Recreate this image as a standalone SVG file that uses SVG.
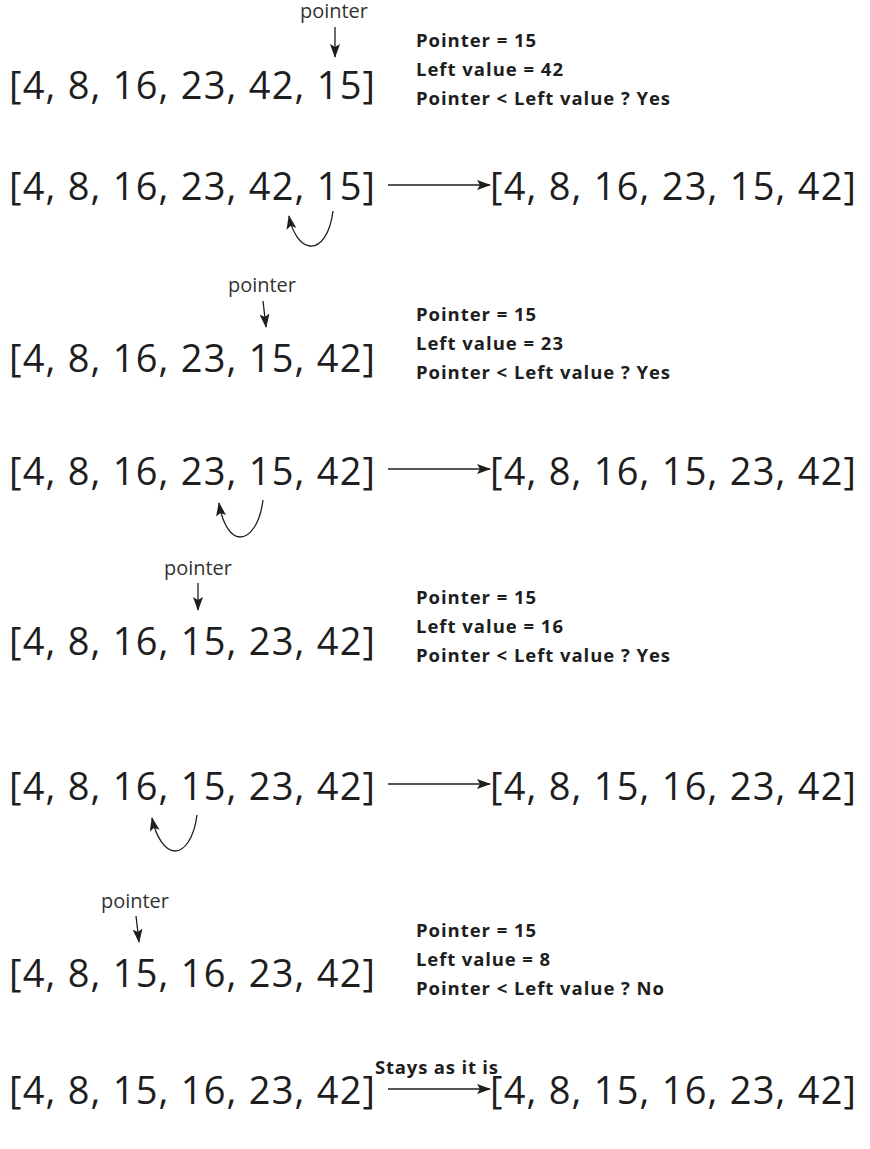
<svg xmlns="http://www.w3.org/2000/svg" width="870" height="1149" viewBox="0 0 870 1149">
<defs>
<style>
.arr{font-family:"Open Sans","Liberation Sans",sans-serif;font-size:38px;fill:#1e1e1e}
.ptr{font-family:"Open Sans","Liberation Sans",sans-serif;font-size:19.5px;fill:#333}
.info{font-family:"Open Sans","Liberation Sans",sans-serif;font-size:18.5px;font-weight:bold;fill:#1e1e1e}
.ln{stroke:#1e1e1e;stroke-width:1.3;fill:none}
</style>
<marker id="ah" viewBox="0 0 14 10" refX="13" refY="5" markerWidth="14" markerHeight="10" markerUnits="userSpaceOnUse" orient="auto">
<path d="M0,0 L14,5 L0,10 L3,5 Z" fill="#1e1e1e"/>
</marker>
</defs>
<rect width="870" height="1149" fill="#fff"/>
<g id="connectors">
<line class="ln" x1="335" y1="27" x2="335" y2="57" marker-end="url(#ah)"/>
<line class="ln" x1="388" y1="185" x2="490" y2="185" marker-end="url(#ah)"/>
<path class="ln" d="M333,211 C330,235 320,247 310,246 C300,245 292,232 289,216" marker-end="url(#ah)"/>
<line class="ln" x1="263" y1="301" x2="266" y2="327" marker-end="url(#ah)"/>
<line class="ln" x1="388" y1="469" x2="490" y2="469" marker-end="url(#ah)"/>
<path class="ln" d="M263,500 C260,524 250,537 240,537 C230,537 222,522 219,503" marker-end="url(#ah)"/>
<line class="ln" x1="198" y1="583" x2="198" y2="610" marker-end="url(#ah)"/>
<line class="ln" x1="388" y1="784" x2="490" y2="784" marker-end="url(#ah)"/>
<path class="ln" d="M197,815 C194,839 184,851 175,851 C165,851 156,837 152,818" marker-end="url(#ah)"/>
<line class="ln" x1="136" y1="916" x2="139" y2="942" marker-end="url(#ah)"/>
<line class="ln" x1="388" y1="1089" x2="490" y2="1089" marker-end="url(#ah)"/>
</g>
<g id="step1">
<text class="ptr" x="300" y="18" textLength="68" lengthAdjust="spacingAndGlyphs">pointer</text>
<text class="arr" x="9" y="99" textLength="366">[4, 8, 16, 23, 42, 15]</text>
<text class="info" x="416" y="47" textLength="120">Pointer = 15</text>
<text class="info" x="416" y="76" textLength="147">Left value = 42</text>
<text class="info" x="416" y="105" textLength="254">Pointer &lt; Left value ? Yes</text>
</g>
<g id="swap1">
<text class="arr" x="9" y="200" textLength="366">[4, 8, 16, 23, 42, 15]</text>
<text class="arr" x="490" y="200" textLength="366">[4, 8, 16, 23, 15, 42]</text>
</g>
<g id="step2">
<text class="ptr" x="228" y="292" textLength="68" lengthAdjust="spacingAndGlyphs">pointer</text>
<text class="arr" x="9" y="372" textLength="366">[4, 8, 16, 23, 15, 42]</text>
<text class="info" x="416" y="321" textLength="120">Pointer = 15</text>
<text class="info" x="416" y="350" textLength="147">Left value = 23</text>
<text class="info" x="416" y="379" textLength="254">Pointer &lt; Left value ? Yes</text>
</g>
<g id="swap2">
<text class="arr" x="9" y="485" textLength="366">[4, 8, 16, 23, 15, 42]</text>
<text class="arr" x="490" y="485" textLength="366">[4, 8, 16, 15, 23, 42]</text>
</g>
<g id="step3">
<text class="ptr" x="164" y="575" textLength="68" lengthAdjust="spacingAndGlyphs">pointer</text>
<text class="arr" x="9" y="655" textLength="366">[4, 8, 16, 15, 23, 42]</text>
<text class="info" x="416" y="604" textLength="120">Pointer = 15</text>
<text class="info" x="416" y="633" textLength="147">Left value = 16</text>
<text class="info" x="416" y="662" textLength="254">Pointer &lt; Left value ? Yes</text>
</g>
<g id="swap3">
<text class="arr" x="9" y="800" textLength="366">[4, 8, 16, 15, 23, 42]</text>
<text class="arr" x="490" y="800" textLength="366">[4, 8, 15, 16, 23, 42]</text>
</g>
<g id="step4">
<text class="ptr" x="101" y="908" textLength="68" lengthAdjust="spacingAndGlyphs">pointer</text>
<text class="arr" x="9" y="987" textLength="366">[4, 8, 15, 16, 23, 42]</text>
<text class="info" x="416" y="937" textLength="120">Pointer = 15</text>
<text class="info" x="416" y="966" textLength="134">Left value = 8</text>
<text class="info" x="416" y="995" textLength="248">Pointer &lt; Left value ? No</text>
</g>
<g id="final">
<text class="info" x="375" y="1074" textLength="123">Stays as it is</text>
<text class="arr" x="9" y="1104" textLength="366">[4, 8, 15, 16, 23, 42]</text>
<text class="arr" x="490" y="1104" textLength="366">[4, 8, 15, 16, 23, 42]</text>
</g>
</svg>
